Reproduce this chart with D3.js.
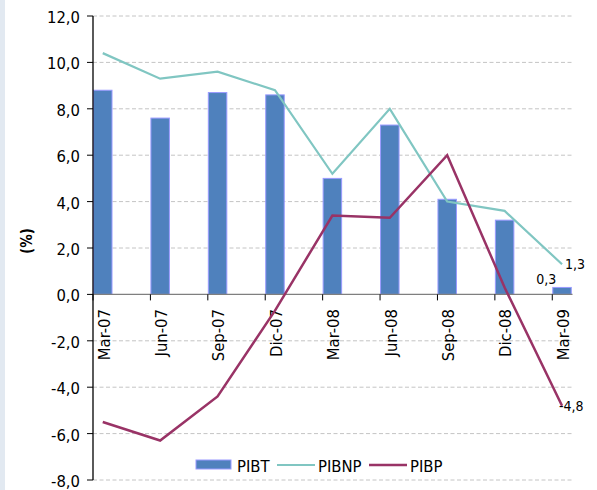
<!DOCTYPE html>
<html>
<head>
<meta charset="utf-8">
<script src="https://cdn.jsdelivr.net/npm/d3@7/dist/d3.min.js"></script>
<style>
  html, body { margin: 0; padding: 0; background: #ffffff; }
  svg { display: block; font-family: "DejaVu Sans Condensed", "DejaVu Sans", sans-serif; }
</style>
</head>
<body>
<svg id="chart" width="597" height="490"></svg>
<script>
const categories = ["Mar-07", "Jun-07", "Sep-07", "Dic-07", "Mar-08", "Jun-08", "Sep-08", "Dic-08", "Mar-09"];
const pibt  = [8.8, 7.6, 8.7, 8.6, 5.0, 7.3, 4.1, 3.2, 0.3];
const pibnp = [10.4, 9.3, 9.6, 8.8, 5.2, 8.0, 4.0, 3.6, 1.3];
const pibp  = [-5.5, -6.3, -4.4, -0.7, 3.4, 3.3, 6.0, 0.3, -4.8];
const yTicks = [-8, -6, -4, -2, 0, 2, 4, 6, 8, 10, 12];
const seriesNames = ["PIBT", "PIBNP", "PIBP"];

const colBar = "#4f81bd", colBarStroke = "#9a9aff";
const colNP = "#80c6c2", colP = "#993366";

const svg = d3.select("#chart");

// left strip
svg.append("rect").attr("x", 0).attr("y", 0).attr("width", 5).attr("height", 490).attr("fill", "#e2e9f1");

const plotLeft = 93, plotRight = 571.5;
const step = 57.41;
const x = d3.scaleBand().domain(categories).range([plotLeft, plotLeft + step * categories.length]).padding(0);
const barW = 19.5;
const y = d3.scaleLinear().domain([-8, 12]).range([480, 16]);
const fmt = v => d3.format(".1f")(v).replace(".", ",").replace("−", "-");

// gridlines
svg.append("g").selectAll("line").data(yTicks.filter(t => t !== 0)).join("line")
  .attr("x1", plotLeft).attr("x2", plotRight)
  .attr("y1", d => y(d)).attr("y2", d => y(d))
  .attr("stroke", "#c4c4c4").attr("stroke-width", 1).attr("stroke-dasharray", "4,2.5");

// bars
svg.append("g").selectAll("rect").data(categories).join("rect")
  .attr("x", c => x(c) + 0.5)
  .attr("width", barW - 1)
  .attr("y", (c, i) => y(Math.max(0, pibt[i])))
  .attr("height", (c, i) => Math.abs(y(pibt[i]) - y(0)))
  .attr("fill", colBar).attr("stroke", colBarStroke).attr("stroke-width", 1);

// x axis (zero line)
svg.append("line").attr("x1", plotLeft).attr("x2", plotRight + 1).attr("y1", y(0)).attr("y2", y(0))
  .attr("stroke", "#7f7f7f").attr("stroke-width", 1.3);
svg.append("g").selectAll("line").data(categories).join("line")
  .attr("x1", c => x(c)).attr("x2", c => x(c))
  .attr("y1", y(0)).attr("y2", y(0) + 6)
  .attr("stroke", "#000").attr("stroke-width", 1);

// x labels
svg.append("g").selectAll("text").data(categories).join("text")
  .attr("transform", c => `translate(${x(c) + barW / 2 + 1},309) rotate(-90)`)
  .attr("text-anchor", "end").attr("dy", "0.35em")
  .attr("font-size", "16.5px").attr("fill", "#000")
  .text(c => c);

// y axis
svg.append("line").attr("x1", plotLeft).attr("x2", plotLeft).attr("y1", y(12)).attr("y2", y(-8))
  .attr("stroke", "#000").attr("stroke-width", 1.3);
const yt = svg.append("g").selectAll("g").data(yTicks).join("g");
yt.append("line").attr("x1", plotLeft - 6).attr("x2", plotLeft).attr("y1", d => y(d)).attr("y2", d => y(d))
  .attr("stroke", "#000").attr("stroke-width", 1);
yt.append("text").attr("x", 80).attr("y", d => y(d)).attr("dy", "0.42em")
  .attr("text-anchor", "end").attr("font-size", "16.5px").attr("fill", "#000")
  .text(d => fmt(d));

// y title
svg.append("text").attr("transform", "translate(27,241) rotate(-90)")
  .attr("text-anchor", "middle").attr("dy", "0.35em")
  .attr("font-size", "15px").attr("font-weight", "bold").text("(%)");

// lines
const line = d3.line().x(d => x(d.c) + barW / 2).y(d => y(d.v));
svg.append("path").datum(categories.map((c, i) => ({ c, v: pibnp[i] })))
  .attr("d", line).attr("fill", "none").attr("stroke", colNP).attr("stroke-width", 2.2);
svg.append("path").datum(categories.map((c, i) => ({ c, v: pibp[i] })))
  .attr("d", line).attr("fill", "none").attr("stroke", colP).attr("stroke-width", 2.5);

// data labels
const last = categories.length - 1, lc = categories[last];
svg.append("text").attr("x", x(lc) + barW / 2 + 3).attr("y", y(pibnp[last])).attr("dy", "0.35em")
  .attr("font-size", "14px").text(fmt(pibnp[last]));
svg.append("text").attr("x", x(lc) - 6).attr("y", y(pibt[last]) - 3)
  .attr("text-anchor", "middle").attr("font-size", "14px").text(fmt(pibt[last]));
svg.append("text").attr("x", x(lc) + barW / 2 - 3).attr("y", y(pibp[last])).attr("dy", "0.35em")
  .attr("font-size", "14px").text(fmt(pibp[last]));

// legend
const lg = svg.append("g");
lg.append("rect").attr("x", 196).attr("y", 460).attr("width", 35).attr("height", 9)
  .attr("fill", colBar).attr("stroke", colBarStroke).attr("stroke-width", 1);
lg.append("text").attr("x", 237).attr("y", 471.5).attr("font-size", "16.5px").text(seriesNames[0]);
lg.append("line").attr("x1", 277).attr("x2", 315).attr("y1", 465).attr("y2", 465).attr("stroke", colNP).attr("stroke-width", 2.2);
lg.append("text").attr("x", 318).attr("y", 471.5).attr("font-size", "16.5px").text(seriesNames[1]);
lg.append("line").attr("x1", 369).attr("x2", 407).attr("y1", 465).attr("y2", 465).attr("stroke", colP).attr("stroke-width", 2.5);
lg.append("text").attr("x", 410).attr("y", 471.5).attr("font-size", "16.5px").text(seriesNames[2]);
</script>
</body>
</html>
